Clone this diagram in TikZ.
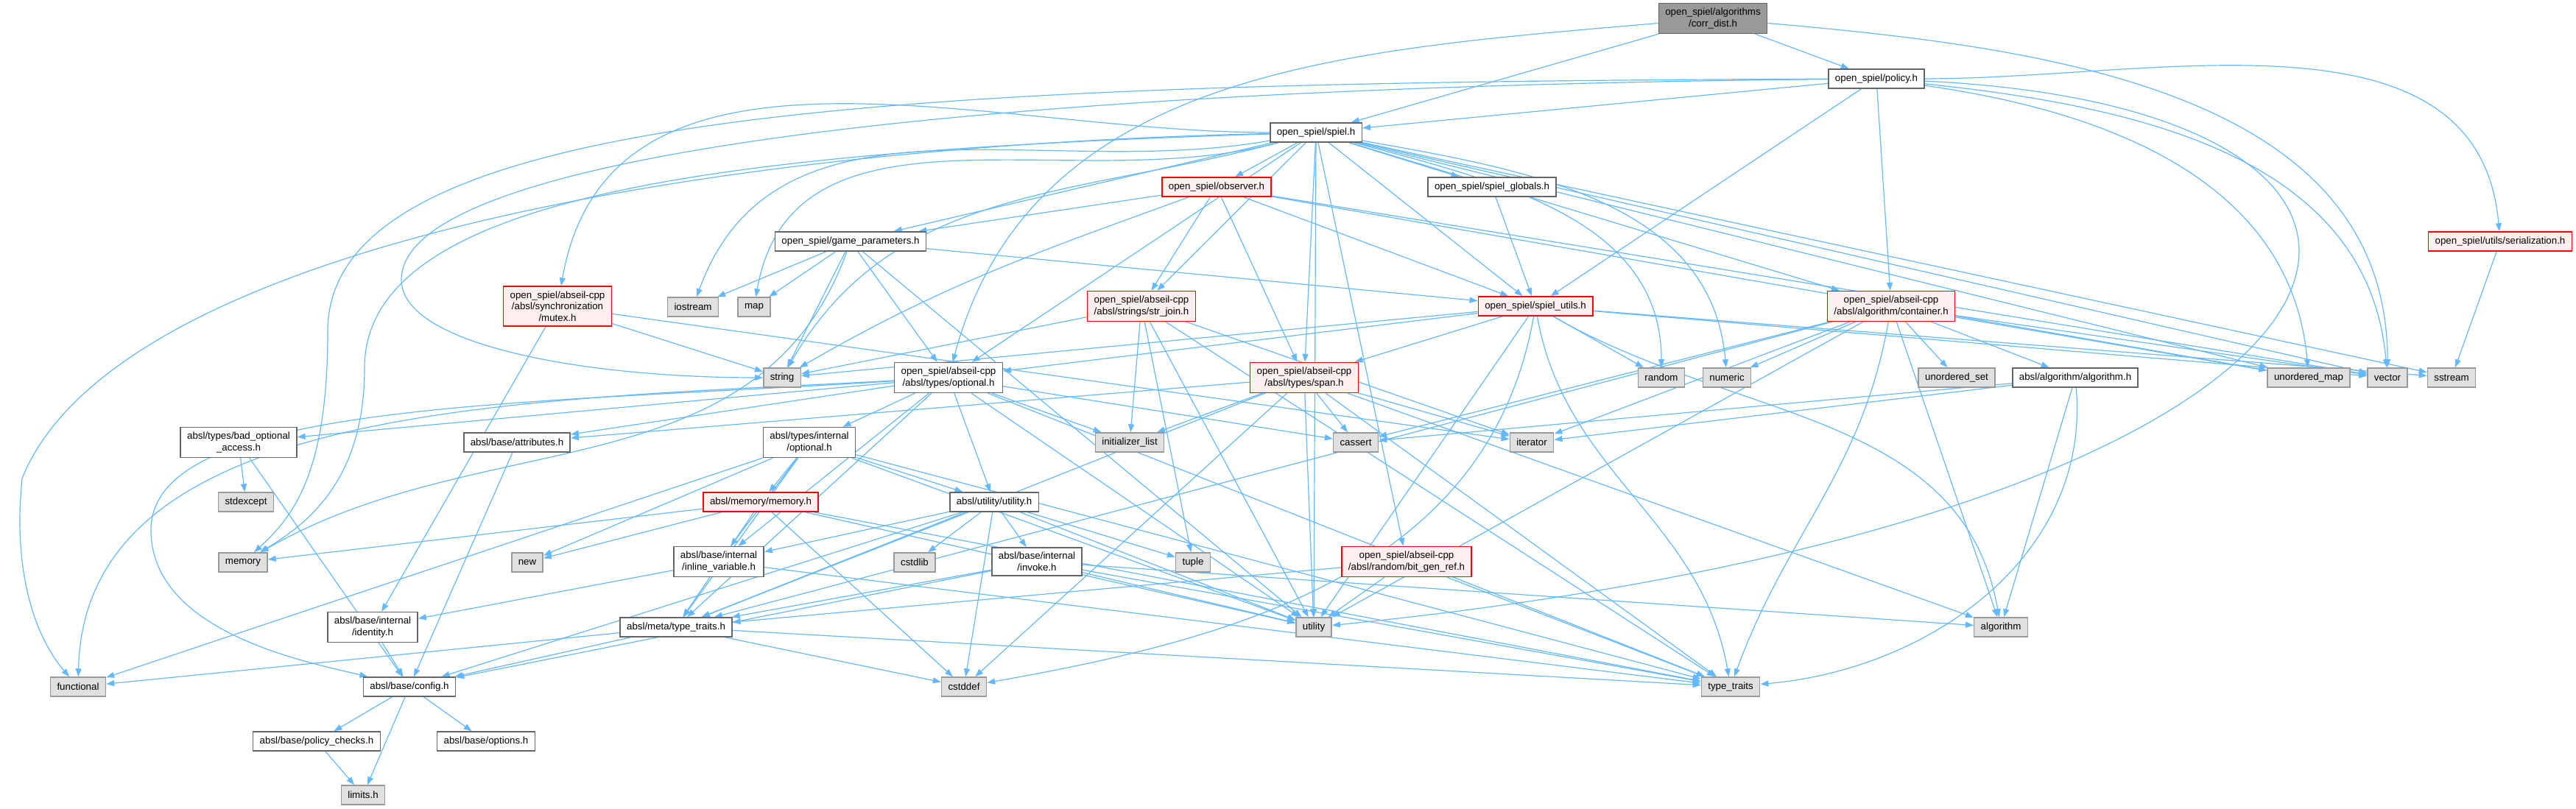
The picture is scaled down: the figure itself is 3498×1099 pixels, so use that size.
\documentclass[tikz,border=0pt]{standalone}
\usepackage{fontspec}
\setmainfont{Liberation Sans}
\usetikzlibrary{arrows.meta,backgrounds}
\definecolor{edgec}{RGB}{99,184,255}
\definecolor{nodeborder}{RGB}{102,102,102}
\definecolor{graybord}{RGB}{153,153,153}
\definecolor{grayfill}{RGB}{224,224,224}
\definecolor{redfill}{RGB}{255,240,240}
\definecolor{rootfill}{RGB}{153,153,153}
\begin{document}
\begin{tikzpicture}[x=0.25pt,y=0.25pt,
  every node/.style={font=\fontsize{3.325}{3.875}\selectfont, align=center, inner xsep=2.25pt, inner ysep=1.625pt, minimum height=6.5pt, line width=0.375pt},
  nwhite/.style={draw=nodeborder, fill=white},
  ngray/.style={draw=graybord, fill=grayfill},
  nred/.style={draw=red, fill=redfill},
  nroot/.style={draw=nodeborder, fill=rootfill},
  e/.style={draw=edgec, line width=0.3pt, -{Triangle[length=2.75pt,width=2pt]}},
]
\path[use as bounding box] (0,0) rectangle (3498,-1099);
% nodes
\node[nroot] (cd) at (2326,-25) {open\_spiel/algorithms\\/corr\_dist.h};
\node[nwhite] (pol) at (2548,-107) {open\_spiel/policy.h};
\node[nwhite] (spiel) at (1787,-180) {open\_spiel/spiel.h};
\node[nred] (obs) at (1652,-254) {open\_spiel/observer.h};
\node[nwhite] (glob) at (2026,-254) {open\_spiel/spiel\_globals.h};
\node[nred] (ser) at (3395,-328) {open\_spiel/utils/serialization.h};
\node[nwhite] (gp) at (1155,-328) {open\_spiel/game\_parameters.h};
\node[nred] (mutex) at (757,-416) {open\_spiel/abseil-cpp\\/absl/synchronization\\/mutex.h};
\node[ngray] (iostream) at (941,-417) {iostream};
\node[ngray] (map) at (1024,-417) {map};
\node[nred] (strjoin) at (1550,-416) {open\_spiel/abseil-cpp\\/absl/strings/str\_join.h};
\node[nred] (utils) at (2085,-416) {open\_spiel/spiel\_utils.h};
\node[nred] (cont) at (2568,-416) {open\_spiel/abseil-cpp\\/absl/algorithm/container.h};
\node[ngray] (string) at (1062,-513) {string};
\node[nwhite] (opt) at (1288,-513) {open\_spiel/abseil-cpp\\/absl/types/optional.h};
\node[nred] (span) at (1771,-513) {open\_spiel/abseil-cpp\\/absl/types/span.h};
\node[ngray] (random) at (2256,-513) {random};
\node[ngray] (numeric) at (2345,-513) {numeric};
\node[ngray] (uset) at (2657,-513) {unordered\_set};
\node[nwhite] (algh) at (2818,-513) {absl/algorithm/algorithm.h};
\node[ngray] (umap) at (3135,-513) {unordered\_map};
\node[ngray] (vector) at (3242,-513) {vector};
\node[ngray] (sstream) at (3329,-513) {sstream};
\node[nwhite] (bad) at (324,-601) {absl/types/bad\_optional\\\_access.h};
\node[nwhite] (attr) at (702,-601) {absl/base/attributes.h};
\node[nwhite] (iopt) at (1099,-601) {absl/types/internal\\/optional.h};
\node[ngray] (initl) at (1534,-601) {initializer\_list};
\node[ngray] (cassert) at (1841,-601) {cassert};
\node[ngray] (iterator) at (2080,-601) {iterator};
\node[ngray] (stdexcept) at (334,-682) {stdexcept};
\node[nred] (memh) at (1033,-682) {absl/memory/memory.h};
\node[nwhite] (utilh) at (1350,-682) {absl/utility/utility.h};
\node[ngray] (memory) at (330,-764) {memory};
\node[ngray] (new) at (716,-764) {new};
\node[nwhite] (inlv) at (976,-763) {absl/base/internal\\/inline\_variable.h};
\node[ngray] (cstdlib) at (1242,-764) {cstdlib};
\node[nwhite] (invoke) at (1408,-763) {absl/base/internal\\/invoke.h};
\node[ngray] (tuple) at (1620,-764) {tuple};
\node[nred] (bgr) at (1910,-763) {open\_spiel/abseil-cpp\\/absl/random/bit\_gen\_ref.h};
\node[nwhite] (ident) at (506,-852) {absl/base/internal\\/identity.h};
\node[nwhite] (mtt) at (918,-852) {absl/meta/type\_traits.h};
\node[ngray] (utility) at (1784,-852) {utility};
\node[ngray] (algorithm) at (2717,-852) {algorithm};
\node[ngray] (functional) at (106,-933) {functional};
\node[nwhite] (config) at (556,-933) {absl/base/config.h};
\node[ngray] (cstddef) at (1309,-933) {cstddef};
\node[ngray] (tt) at (2350,-933) {type\_traits};
\node[nwhite] (pchk) at (430,-1007) {absl/base/policy\_checks.h};
\node[nwhite] (opts) at (660,-1007) {absl/base/options.h};
\node[ngray] (limits) at (493,-1080) {limits.h};
% edges
\begin{pgfonlayer}{background}
\foreach \s/\t in {cd/pol, cd/spiel,
  pol/spiel, pol/utils, pol/cont,
  spiel/obs, spiel/glob, spiel/span, spiel/strjoin, spiel/gp, spiel/opt, spiel/bgr, spiel/utility, spiel/cont, spiel/umap, spiel/vector, spiel/sstream, spiel/utils,
  obs/gp, obs/strjoin, obs/span, obs/utils, obs/umap, obs/vector,
  glob/utils, ser/sstream,
  gp/iostream, gp/map, gp/string, gp/utility, gp/opt, gp/utils,
  mutex/ident, mutex/iterator, mutex/string,
  strjoin/initl, strjoin/iterator, strjoin/string, strjoin/tuple, strjoin/utility, strjoin/tt,
  utils/span, utils/random, utils/opt, utils/string, utils/utility, utils/sstream, utils/vector,
  cont/numeric, cont/uset, cont/algh, cont/cassert, cont/iterator, cont/umap, cont/vector, cont/utility, cont/algorithm, cont/mtt,
  algh/cassert, algh/iterator, algh/algorithm,
  opt/utilh, opt/cassert, opt/initl, opt/tt, opt/utility, opt/attr, opt/inlv, opt/mtt, opt/bad, opt/iopt,
  span/algorithm, span/cassert, span/cstddef, span/initl, span/iterator, span/tt, span/utility, span/mtt, span/attr,
  bad/config, bad/stdexcept, attr/config,
  iopt/functional, iopt/new, iopt/tt, iopt/utility, iopt/inlv, iopt/memh, iopt/mtt, iopt/utilh,
  memh/cstddef, memh/memory, memh/new, memh/tt, memh/utility, memh/mtt,
  utilh/cstddef, utilh/cstdlib, utilh/tuple, utilh/utility, utilh/config, utilh/inlv, utilh/invoke, utilh/mtt,
  invoke/algorithm, invoke/tt, invoke/utility, invoke/mtt, invoke/config,
  inlv/ident, inlv/tt, ident/config,
  mtt/functional, mtt/config, mtt/cstddef, mtt/tt,
  config/pchk, config/opts, config/limits, pchk/limits,
  bgr/utility, bgr/tt, bgr/mtt}
  \draw[e] (\s) -- (\t);
\draw[e] (cd) to[out=-5,in=90] (vector);
\draw[e] (cd) to[out=185,in=75] (opt);
\draw[e] (pol) .. controls (1200,-112) and (445,-150) .. (445,-450) .. controls (445,-640) and (400,-700) .. (memory);
\draw[e] (pol) .. controls (1400,-118) and (545,-200) .. (545,-380) .. controls (545,-470) and (800,-513) .. (string);
\draw[e] (pol) to[out=-8,in=95] (umap);
\draw[e] (pol) to[out=-6,in=95] (vector);
\draw[e] (pol) to[out=0,in=95] (ser);
\draw[e] (pol) .. controls (3450,-150) and (3300,-700) .. (utility);
\draw[e] (spiel) .. controls (900,-200) and (150,-350) .. (30,-650) .. controls (15,-800) and (60,-880) .. (functional);
\draw[e] (spiel) .. controls (1000,-205) and (495,-260) .. (495,-500) .. controls (495,-650) and (420,-710) .. (memory);
\draw[e] (spiel) to[out=180,in=80] (mutex);
\draw[e] (spiel) to[out=190,in=70] (iostream);
\draw[e] (spiel) to[out=195,in=80] (map);
\draw[e] (spiel) to[out=195,in=60] (string);
\draw[e] (spiel) to[out=-15,in=90] (random);
\draw[e] (spiel) to[out=-10,in=95] (numeric);
\draw[e] (utils) to[out=-30,in=100] (algorithm);
\draw[e] (utils) to[out=-80,in=100] (tt);
\draw[e] (utils) to[out=-100,in=10] (cstddef);
\draw[e] (cont) to[out=-100,in=70] (tt);
\draw[e] (algh) to[out=-85,in=5] (tt);
\draw[e] (obs) to[out=200,in=30] (string);
\draw[e] (gp) to[out=-110,in=30] (memory);
\draw[e] (opt) .. controls (700,-545) and (115,-545) .. (functional);
\draw[e] (opt) .. controls (700,-550) and (205,-545) .. (205,-720) .. controls (205,-860) and (420,-900) .. (config);
\end{pgfonlayer}
\end{tikzpicture}
\end{document}
